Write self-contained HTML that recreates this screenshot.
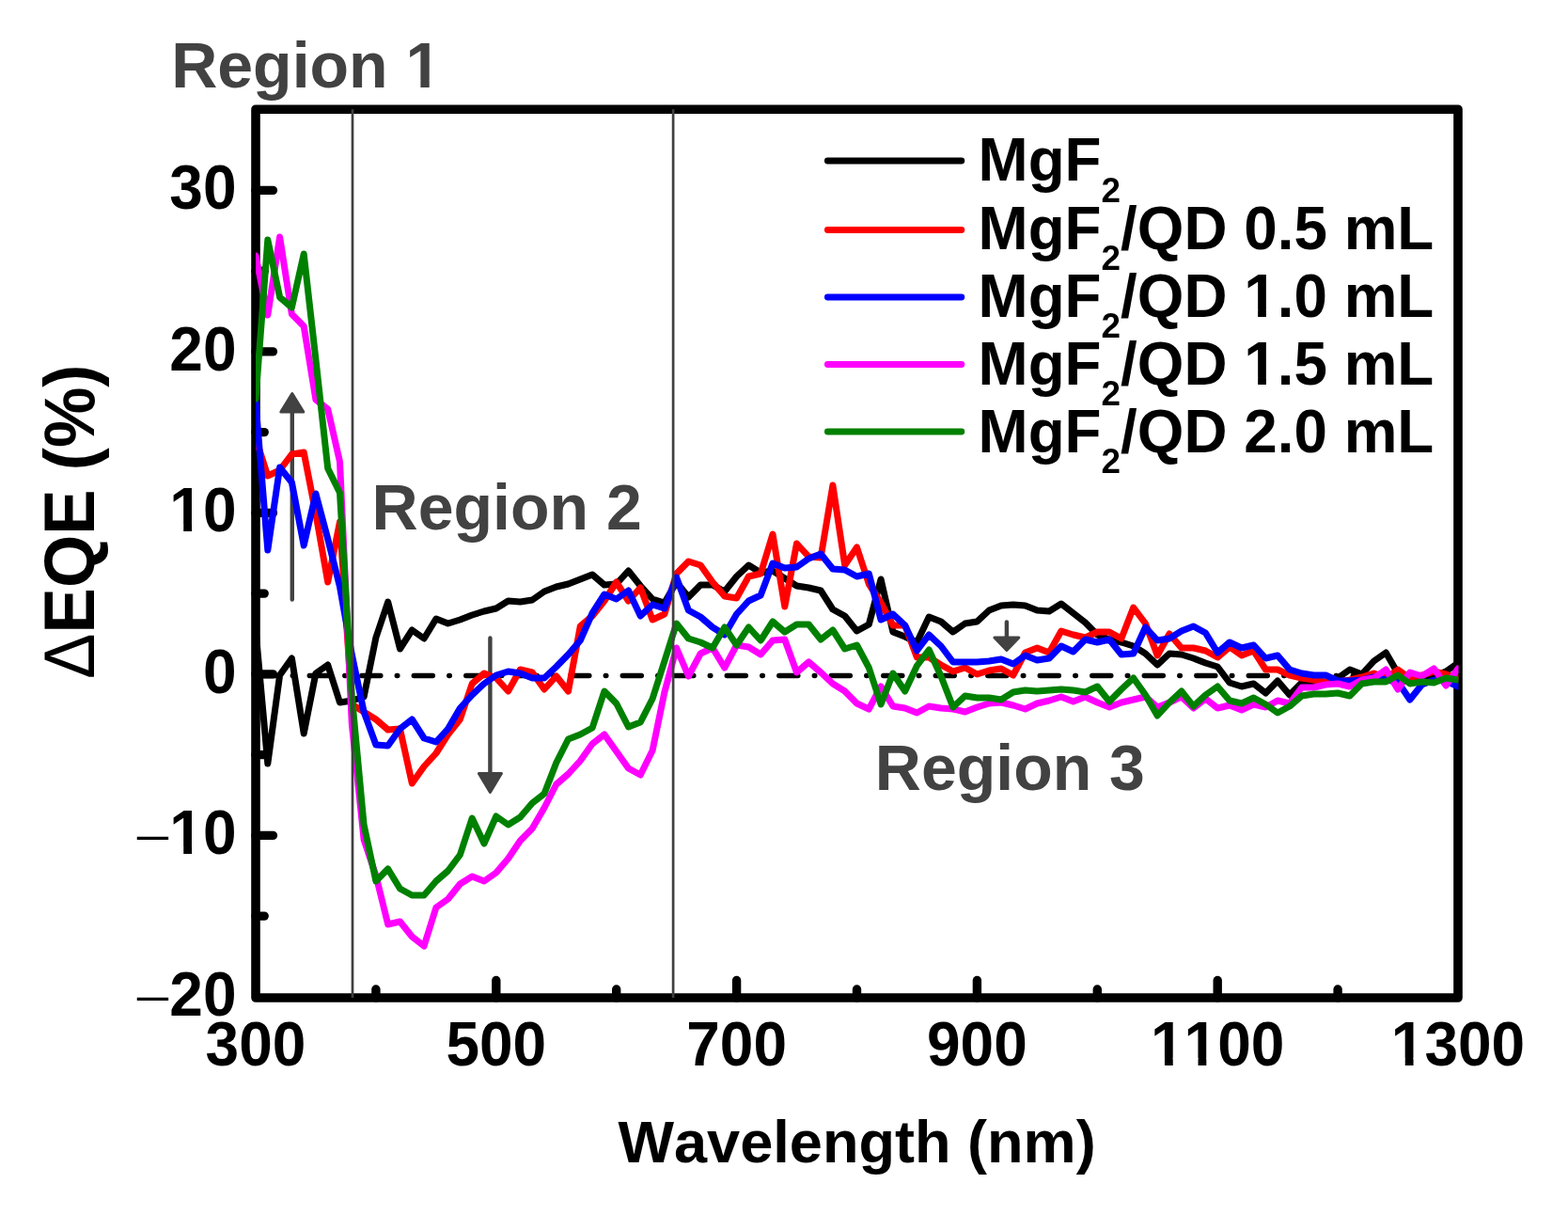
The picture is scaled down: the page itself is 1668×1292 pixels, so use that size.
<!DOCTYPE html>
<html><head><meta charset="utf-8"><title>EQE plot</title>
<style>html,body{margin:0;padding:0;background:#fff;}svg{display:block;font-kerning:none;}</style>
</head><body>
<svg width="1668" height="1292" viewBox="0 0 1668 1292">
<defs><clipPath id="one0"><path clip-rule="evenodd" d="M-5000,-5000H5000V5000H-5000Z M-68.67,-7.31H-56.24V2.50H-68.67Z M-47.46,-7.31H-36.02V2.50H-47.46Z"/></clipPath><clipPath id="one1"><path clip-rule="evenodd" d="M-5000,-5000H5000V5000H-5000Z M-68.67,-7.31H-56.24V2.50H-68.67Z M-47.46,-7.31H-36.02V2.50H-47.46Z"/></clipPath><clipPath id="one2"><path clip-rule="evenodd" d="M-5000,-5000H5000V5000H-5000Z M-68.67,-7.31H-56.24V2.50H-68.67Z M-47.46,-7.31H-36.02V2.50H-47.46Z M-33.10,-7.31H-20.66V2.50H-33.10Z M-11.88,-7.31H-0.44V2.50H-11.88Z"/></clipPath><clipPath id="one3"><path clip-rule="evenodd" d="M-5000,-5000H5000V5000H-5000Z M-68.67,-7.31H-56.24V2.50H-68.67Z M-47.46,-7.31H-36.02V2.50H-47.46Z"/></clipPath><clipPath id="one4"><path clip-rule="evenodd" d="M-5000,-5000H5000V5000H-5000Z M434.17,85.43H447.39V95.86H434.17Z M456.72,85.43H468.88V95.86H456.72Z"/></clipPath><clipPath id="one5"><path clip-rule="evenodd" d="M-5000,-5000H5000V5000H-5000Z M285.23,-7.29H297.64V2.49H285.23Z M306.39,-7.29H317.80V2.49H306.39Z"/></clipPath><clipPath id="one6"><path clip-rule="evenodd" d="M-5000,-5000H5000V5000H-5000Z M285.23,-7.29H297.64V2.49H285.23Z M306.39,-7.29H317.80V2.49H306.39Z"/></clipPath></defs><rect width="1668" height="1292" fill="#fff"/>
<line x1="273.8" y1="718.5" x2="1549" y2="718.5" stroke="#000" stroke-width="5.5" stroke-linecap="round" stroke-dasharray="20 17.5 0.5 17.5"/>
<line x1="310.8" y1="436.0" x2="310.8" y2="637.5" stroke="#424242" stroke-width="4.4" stroke-linecap="round"/><path d="M310.8,418.5 L322.8,438.0 L298.8,438.0 Z" fill="#424242" stroke="#424242" stroke-width="3" stroke-linejoin="round"/>
<line x1="521.4" y1="678.5" x2="521.4" y2="824.5" stroke="#424242" stroke-width="4.4" stroke-linecap="round"/><path d="M521.4,842.5 L533.4,822.5 L509.4,822.5 Z" fill="#424242" stroke="#424242" stroke-width="3" stroke-linejoin="round"/>
<line x1="1070.9" y1="661.5" x2="1070.9" y2="680.0" stroke="#424242" stroke-width="4.4" stroke-linecap="round"/><path d="M1070.9,691.5 L1083.9,678.0 L1057.9,678.0 Z" fill="#424242" stroke="#424242" stroke-width="3" stroke-linejoin="round"/>
<rect x="272" y="116.2" width="1279" height="944.8" fill="none" stroke="#000" stroke-width="9.6" stroke-linejoin="round"/>
<line x1="272" y1="202.4" x2="290.4" y2="202.4" stroke="#000" stroke-width="9.4" stroke-linecap="round"/>
<line x1="272" y1="373.9" x2="290.4" y2="373.9" stroke="#000" stroke-width="9.4" stroke-linecap="round"/>
<line x1="272" y1="545.4" x2="290.4" y2="545.4" stroke="#000" stroke-width="9.4" stroke-linecap="round"/>
<line x1="272" y1="716.9" x2="290.4" y2="716.9" stroke="#000" stroke-width="9.4" stroke-linecap="round"/>
<line x1="272" y1="888.4" x2="290.4" y2="888.4" stroke="#000" stroke-width="9.4" stroke-linecap="round"/>
<line x1="272" y1="288.2" x2="281.2" y2="288.2" stroke="#000" stroke-width="9.4" stroke-linecap="round"/>
<line x1="272" y1="459.6" x2="281.2" y2="459.6" stroke="#000" stroke-width="9.4" stroke-linecap="round"/>
<line x1="272" y1="631.1" x2="281.2" y2="631.1" stroke="#000" stroke-width="9.4" stroke-linecap="round"/>
<line x1="272" y1="802.6" x2="281.2" y2="802.6" stroke="#000" stroke-width="9.4" stroke-linecap="round"/>
<line x1="272" y1="974.1" x2="281.2" y2="974.1" stroke="#000" stroke-width="9.4" stroke-linecap="round"/>
<line x1="527.8" y1="1061" x2="527.8" y2="1042.5" stroke="#000" stroke-width="9.4" stroke-linecap="round"/>
<line x1="783.6" y1="1061" x2="783.6" y2="1042.5" stroke="#000" stroke-width="9.4" stroke-linecap="round"/>
<line x1="1039.4" y1="1061" x2="1039.4" y2="1042.5" stroke="#000" stroke-width="9.4" stroke-linecap="round"/>
<line x1="1295.2" y1="1061" x2="1295.2" y2="1042.5" stroke="#000" stroke-width="9.4" stroke-linecap="round"/>
<line x1="399.9" y1="1061" x2="399.9" y2="1052" stroke="#000" stroke-width="9.4" stroke-linecap="round"/>
<line x1="655.7" y1="1061" x2="655.7" y2="1052" stroke="#000" stroke-width="9.4" stroke-linecap="round"/>
<line x1="911.5" y1="1061" x2="911.5" y2="1052" stroke="#000" stroke-width="9.4" stroke-linecap="round"/>
<line x1="1167.3" y1="1061" x2="1167.3" y2="1052" stroke="#000" stroke-width="9.4" stroke-linecap="round"/>
<line x1="1423.1" y1="1061" x2="1423.1" y2="1052" stroke="#000" stroke-width="9.4" stroke-linecap="round"/>
<defs><clipPath id="pc"><rect x="272" y="116" width="1279.5" height="945"/></clipPath></defs>
<g clip-path="url(#pc)">
<polyline points="272.0,670.0 284.8,812.0 297.6,718.0 310.4,700.0 323.2,780.0 335.9,716.0 348.7,707.0 361.5,747.0 374.3,745.0 387.1,741.0 399.9,678.0 412.7,640.0 425.5,690.0 438.3,670.0 451.1,679.0 463.9,658.0 476.6,663.0 489.4,659.0 502.2,654.0 515.0,650.0 527.8,647.0 540.6,639.0 553.4,640.0 566.2,638.0 579.0,629.0 591.8,624.0 604.5,621.0 617.3,616.0 630.1,611.0 642.9,622.0 655.7,621.0 668.5,607.0 681.3,623.0 694.1,637.0 706.9,641.0 719.6,619.0 732.4,635.0 745.2,622.0 758.0,622.0 770.8,629.0 783.6,613.0 796.4,601.0 809.2,609.0 822.0,607.0 834.8,615.0 847.5,623.0 860.3,625.0 873.1,628.0 885.9,648.0 898.7,655.0 911.5,671.0 924.3,664.0 937.1,616.0 949.9,672.0 962.7,677.0 975.4,683.0 988.2,656.0 1001.0,661.0 1013.8,672.0 1026.6,663.0 1039.4,661.0 1052.2,649.0 1065.0,644.0 1077.8,643.0 1090.6,644.0 1103.3,649.0 1116.1,650.0 1128.9,642.0 1141.7,652.0 1154.5,662.0 1167.3,675.0 1180.1,680.0 1192.9,683.0 1205.7,687.0 1218.5,695.0 1231.2,707.0 1244.0,695.0 1256.8,696.0 1269.6,700.0 1282.4,705.0 1295.2,709.0 1308.0,726.0 1320.8,730.0 1333.6,727.0 1346.4,737.0 1359.1,724.0 1371.9,739.0 1384.7,726.0 1397.5,727.0 1410.3,726.0 1423.1,721.0 1435.9,712.0 1448.7,717.0 1461.5,703.0 1474.3,694.0 1487.0,716.0 1499.8,720.0 1512.6,719.0 1525.4,719.0 1538.2,714.0 1551.0,705.0" fill="none" stroke="#000" stroke-width="7" stroke-linejoin="round" stroke-linecap="round"/>
<polyline points="272.0,466.0 284.8,506.0 297.6,500.0 310.4,483.0 323.2,481.0 335.9,546.0 348.7,619.0 361.5,555.0 374.3,749.0 387.1,757.0 399.9,765.0 412.7,776.0 425.5,775.0 438.3,833.0 451.1,815.0 463.9,801.0 476.6,781.0 489.4,765.0 502.2,727.0 515.0,716.0 527.8,721.0 540.6,735.0 553.4,712.0 566.2,715.0 579.0,733.0 591.8,719.0 604.5,735.0 617.3,666.0 630.1,655.0 642.9,639.0 655.7,619.0 668.5,639.0 681.3,625.0 694.1,659.0 706.9,653.0 719.6,610.0 732.4,597.0 745.2,601.0 758.0,619.0 770.8,634.0 783.6,636.0 796.4,613.0 809.2,610.0 822.0,568.0 834.8,645.0 847.5,578.0 860.3,592.0 873.1,593.0 885.9,516.0 898.7,601.0 911.5,582.0 924.3,621.0 937.1,641.0 949.9,665.0 962.7,665.0 975.4,699.0 988.2,699.0 1001.0,707.0 1013.8,714.0 1026.6,710.0 1039.4,717.0 1052.2,713.0 1065.0,711.0 1077.8,718.0 1090.6,694.0 1103.3,689.0 1116.1,694.0 1128.9,671.0 1141.7,675.0 1154.5,678.0 1167.3,672.0 1180.1,672.0 1192.9,679.0 1205.7,646.0 1218.5,663.0 1231.2,697.0 1244.0,674.0 1256.8,689.0 1269.6,689.0 1282.4,692.0 1295.2,699.0 1308.0,688.0 1320.8,697.0 1333.6,692.0 1346.4,712.0 1359.1,712.0 1371.9,718.0 1384.7,721.0 1397.5,723.0 1410.3,725.0 1423.1,725.0 1435.9,723.0 1448.7,720.0 1461.5,716.0 1474.3,721.0 1487.0,712.0 1499.8,721.0 1512.6,718.0 1525.4,714.0 1538.2,717.0 1551.0,721.0" fill="none" stroke="#ff0000" stroke-width="7" stroke-linejoin="round" stroke-linecap="round"/>
<polyline points="272.0,428.0 284.8,585.0 297.6,497.0 310.4,513.0 323.2,580.0 335.9,525.0 348.7,573.0 361.5,624.0 374.3,696.0 387.1,757.0 399.9,792.0 412.7,793.0 425.5,775.0 438.3,765.0 451.1,785.0 463.9,789.0 476.6,775.0 489.4,753.0 502.2,739.0 515.0,727.0 527.8,718.0 540.6,714.0 553.4,716.0 566.2,721.0 579.0,721.0 591.8,709.0 604.5,696.0 617.3,681.0 630.1,652.0 642.9,632.0 655.7,637.0 668.5,628.0 681.3,655.0 694.1,643.0 706.9,647.0 719.6,614.0 732.4,649.0 745.2,656.0 758.0,667.0 770.8,675.0 783.6,653.0 796.4,639.0 809.2,633.0 822.0,599.0 834.8,604.0 847.5,603.0 860.3,594.0 873.1,589.0 885.9,605.0 898.7,606.0 911.5,613.0 924.3,610.0 937.1,659.0 949.9,653.0 962.7,665.0 975.4,692.0 988.2,675.0 1001.0,687.0 1013.8,704.0 1026.6,704.0 1039.4,704.0 1052.2,703.0 1065.0,701.0 1077.8,706.0 1090.6,697.0 1103.3,702.0 1116.1,700.0 1128.9,687.0 1141.7,693.0 1154.5,680.0 1167.3,683.0 1180.1,680.0 1192.9,696.0 1205.7,695.0 1218.5,667.0 1231.2,681.0 1244.0,679.0 1256.8,671.0 1269.6,666.0 1282.4,673.0 1295.2,694.0 1308.0,683.0 1320.8,689.0 1333.6,686.0 1346.4,700.0 1359.1,697.0 1371.9,712.0 1384.7,716.0 1397.5,718.0 1410.3,718.0 1423.1,724.0 1435.9,724.0 1448.7,723.0 1461.5,720.0 1474.3,723.0 1487.0,725.0 1499.8,744.0 1512.6,728.0 1525.4,723.0 1538.2,724.0 1551.0,730.0" fill="none" stroke="#0000ff" stroke-width="7" stroke-linejoin="round" stroke-linecap="round"/>
<polyline points="272.0,272.0 284.8,335.0 297.6,252.0 310.4,334.0 323.2,347.0 335.9,425.0 348.7,435.0 361.5,491.0 374.3,770.0 387.1,893.0 399.9,931.0 412.7,983.0 425.5,980.0 438.3,996.0 451.1,1006.0 463.9,965.0 476.6,956.0 489.4,940.0 502.2,932.0 515.0,937.0 527.8,928.0 540.6,913.0 553.4,894.0 566.2,881.0 579.0,859.0 591.8,834.0 604.5,823.0 617.3,809.0 630.1,791.0 642.9,781.0 655.7,799.0 668.5,817.0 681.3,824.0 694.1,798.0 706.9,736.0 719.6,689.0 732.4,719.0 745.2,695.0 758.0,689.0 770.8,710.0 783.6,686.0 796.4,688.0 809.2,696.0 822.0,681.0 834.8,680.0 847.5,715.0 860.3,704.0 873.1,715.0 885.9,727.0 898.7,735.0 911.5,748.0 924.3,754.0 937.1,730.0 949.9,751.0 962.7,753.0 975.4,758.0 988.2,751.0 1001.0,753.0 1013.8,754.0 1026.6,757.0 1039.4,752.0 1052.2,748.0 1065.0,747.0 1077.8,750.0 1090.6,754.0 1103.3,748.0 1116.1,745.0 1128.9,741.0 1141.7,746.0 1154.5,741.0 1167.3,747.0 1180.1,752.0 1192.9,747.0 1205.7,744.0 1218.5,741.0 1231.2,752.0 1244.0,747.0 1256.8,741.0 1269.6,753.0 1282.4,743.0 1295.2,753.0 1308.0,750.0 1320.8,755.0 1333.6,749.0 1346.4,752.0 1359.1,745.0 1371.9,748.0 1384.7,731.0 1397.5,731.0 1410.3,728.0 1423.1,727.0 1435.9,730.0 1448.7,723.0 1461.5,721.0 1474.3,712.0 1487.0,733.0 1499.8,715.0 1512.6,719.0 1525.4,711.0 1538.2,729.0 1551.0,711.0" fill="none" stroke="#ff00ff" stroke-width="7" stroke-linejoin="round" stroke-linecap="round"/>
<polyline points="272.0,424.0 284.8,255.0 297.6,316.0 310.4,327.0 323.2,270.0 335.9,382.0 348.7,498.0 361.5,524.0 374.3,740.0 387.1,877.0 399.9,937.0 412.7,924.0 425.5,945.0 438.3,952.0 451.1,952.0 463.9,937.0 476.6,926.0 489.4,909.0 502.2,870.0 515.0,897.0 527.8,868.0 540.6,877.0 553.4,869.0 566.2,854.0 579.0,844.0 591.8,811.0 604.5,786.0 617.3,781.0 630.1,774.0 642.9,735.0 655.7,748.0 668.5,773.0 681.3,768.0 694.1,743.0 706.9,703.0 719.6,663.0 732.4,679.0 745.2,683.0 758.0,689.0 770.8,667.0 783.6,686.0 796.4,667.0 809.2,681.0 822.0,661.0 834.8,672.0 847.5,664.0 860.3,664.0 873.1,680.0 885.9,670.0 898.7,690.0 911.5,686.0 924.3,710.0 937.1,749.0 949.9,716.0 962.7,735.0 975.4,708.0 988.2,691.0 1001.0,719.0 1013.8,752.0 1026.6,740.0 1039.4,742.0 1052.2,742.0 1065.0,744.0 1077.8,736.0 1090.6,734.0 1103.3,735.0 1116.1,734.0 1128.9,733.0 1141.7,734.0 1154.5,736.0 1167.3,730.0 1180.1,746.0 1192.9,733.0 1205.7,721.0 1218.5,739.0 1231.2,761.0 1244.0,747.0 1256.8,735.0 1269.6,751.0 1282.4,739.0 1295.2,730.0 1308.0,745.0 1320.8,748.0 1333.6,742.0 1346.4,749.0 1359.1,758.0 1371.9,751.0 1384.7,740.0 1397.5,738.0 1410.3,738.0 1423.1,737.0 1435.9,740.0 1448.7,727.0 1461.5,725.0 1474.3,725.0 1487.0,718.0 1499.8,727.0 1512.6,725.0 1525.4,726.0 1538.2,721.0 1551.0,723.0" fill="none" stroke="#008000" stroke-width="7" stroke-linejoin="round" stroke-linecap="round"/>
</g>
<line x1="375.0" y1="116.2" x2="375.0" y2="1061" stroke="#404040" stroke-width="2.7"/>
<line x1="716.1" y1="116.2" x2="716.1" y2="1061" stroke="#404040" stroke-width="2.7"/>
<g font-family='"Liberation Sans", Arial, sans-serif' font-weight="bold" font-size="64" fill="#000" text-anchor="end">
<text transform="translate(251.5,222.4) scale(1,1.03)">30</text>
<text transform="translate(251.5,393.9) scale(1,1.03)">20</text>
<text clip-path="url(#one0)" transform="translate(251.5,565.4) scale(1,1.03)">10</text>
<text transform="translate(251.5,736.9) scale(1,1.03)">0</text>
<text clip-path="url(#one1)" transform="translate(251.5,908.4) scale(1,1.03)">10</text>
<text transform="translate(162.5,903.7) scale(0.94,0.77)" font-weight="normal" text-anchor="middle">–</text>
<text transform="translate(251.5,1079.9) scale(1,1.03)">20</text>
<text transform="translate(162.5,1075.2) scale(0.94,0.77)" font-weight="normal" text-anchor="middle">–</text>
</g>
<g font-family='"Liberation Sans", Arial, sans-serif' font-weight="bold" font-size="64" fill="#000" text-anchor="middle">
<text transform="translate(272.0,1132.5) scale(1,1.03)">300</text>
<text transform="translate(527.8,1132.5) scale(1,1.03)">500</text>
<text transform="translate(783.6,1132.5) scale(1,1.03)">700</text>
<text transform="translate(1039.4,1132.5) scale(1,1.03)">900</text>
<text clip-path="url(#one2)" transform="translate(1295.2,1132.5) scale(1,1.03)">1100</text>
<text clip-path="url(#one3)" transform="translate(1551.0,1132.5) scale(1,1.03)">1300</text>
</g>
<text x="911.6" y="1236.4" font-family='"Liberation Sans", Arial, sans-serif' font-weight="bold" font-size="63.1" text-anchor="middle">Wavelength (nm)</text>
<text transform="translate(100.2,554.7) rotate(-90) scale(1,1.05)" font-family='"Liberation Sans", Arial, sans-serif' font-weight="bold" font-size="72.5" text-anchor="middle"><tspan font-weight="normal">Δ</tspan>EQE (%)</text>
<g font-family='"Liberation Sans", Arial, sans-serif' font-weight="bold" font-size="68" fill="#424242">
<text clip-path="url(#one4)" x="182.2" y="93.2">Region 1</text>
<text x="395.6" y="563.3">Region 2</text>
<text x="930.8" y="840">Region 3</text>
</g>
<line x1="880.4" y1="171" x2="1022.8" y2="171" stroke="#000" stroke-width="6.9" stroke-linecap="round"/>
<text transform="translate(1040.5,192.4) scale(1,1.025)" font-family='"Liberation Sans", Arial, sans-serif' font-weight="bold" font-size="63.8">MgF<tspan font-size="36.9" dy="22">2</tspan><tspan dy="-22"></tspan></text>
<line x1="880.4" y1="244.5" x2="1022.8" y2="244.5" stroke="#ff0000" stroke-width="6.9" stroke-linecap="round"/>
<text transform="translate(1040.5,264.5) scale(1,1.025)" font-family='"Liberation Sans", Arial, sans-serif' font-weight="bold" font-size="63.8">MgF<tspan font-size="36.9" dy="22">2</tspan><tspan dy="-22">/QD 0.5 mL</tspan></text>
<line x1="880.4" y1="316" x2="1022.8" y2="316" stroke="#0000ff" stroke-width="6.9" stroke-linecap="round"/>
<text clip-path="url(#one5)" transform="translate(1040.5,336.6) scale(1,1.025)" font-family='"Liberation Sans", Arial, sans-serif' font-weight="bold" font-size="63.8">MgF<tspan font-size="36.9" dy="22">2</tspan><tspan dy="-22">/QD 1.0 mL</tspan></text>
<line x1="880.4" y1="387.5" x2="1022.8" y2="387.5" stroke="#ff00ff" stroke-width="6.9" stroke-linecap="round"/>
<text clip-path="url(#one6)" transform="translate(1040.5,408.7) scale(1,1.025)" font-family='"Liberation Sans", Arial, sans-serif' font-weight="bold" font-size="63.8">MgF<tspan font-size="36.9" dy="22">2</tspan><tspan dy="-22">/QD 1.5 mL</tspan></text>
<line x1="880.4" y1="459" x2="1022.8" y2="459" stroke="#008000" stroke-width="6.9" stroke-linecap="round"/>
<text transform="translate(1040.5,480.8) scale(1,1.025)" font-family='"Liberation Sans", Arial, sans-serif' font-weight="bold" font-size="63.8">MgF<tspan font-size="36.9" dy="22">2</tspan><tspan dy="-22">/QD 2.0 mL</tspan></text>
</svg>
</body></html>
